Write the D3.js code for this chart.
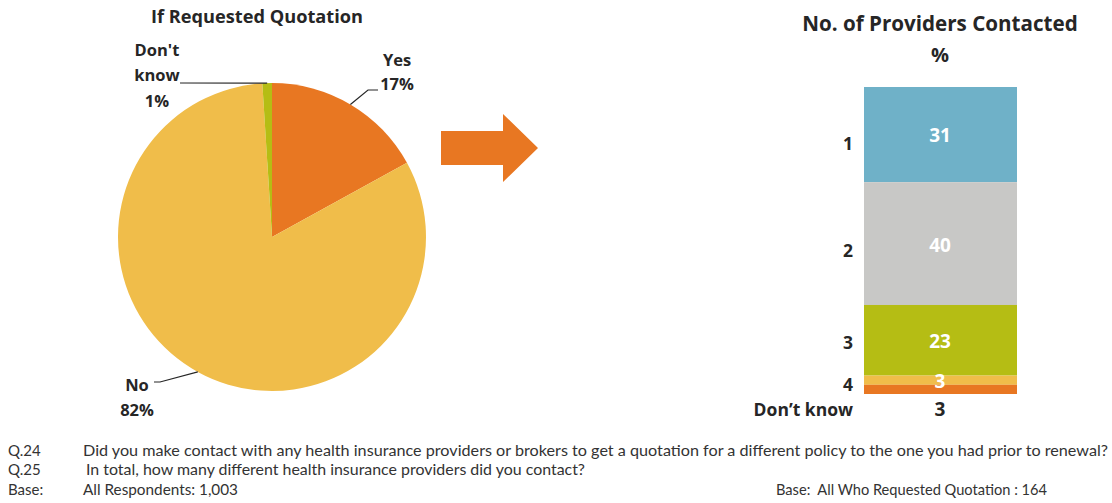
<!DOCTYPE html>
<html>
<head>
<meta charset="utf-8">
<script src="https://cdn.jsdelivr.net/npm/d3@7/dist/d3.min.js"></script>
<style>
  html, body { margin: 0; padding: 0; background: #fff; }
  svg { display: block; font-family: "Open Sans", "DejaVu Sans", sans-serif; }
  .foot { font-family: Lato, "Open Sans", sans-serif; white-space: pre; }
</style>
</head>
<body>
<svg id="chart" width="1112" height="503"></svg>
<script>
// Pie: whether a quotation was requested
const pieCategories = ["Yes", "No", "Don't know"];
const pieValues = [17, 82, 1];
const pieColors = ["#E87722", "#F0BD4A", "#B5BD14"];

// Stacked bar: number of providers contacted (%)
const barCategories = ["1", "2", "3", "4", "Don\u2019t know"];
const barValues = [31, 40, 23, 3, 3];
const barColors = ["#6FB1C8", "#C8C8C6", "#B5BD14", "#F0BD4A", "#E87722"];

const footLines = [
  ["Q.24", "Did you make contact with any health insurance providers or brokers to get a quotation for a different policy to the one you had prior to renewal?"],
  ["Q.25", "In total, how many different health insurance providers did you contact?"],
  ["Base:", "All Respondents: 1,003"]
];
const rightBase = "Base:  All Who Requested Quotation : 164";

const svg = d3.select("#chart");
const dark = "#262626";

// ---------- Pie ----------
const cx = 272, cy = 237, r = 154;
svg.append("text").attr("x", 257).attr("y", 23)
  .attr("text-anchor", "middle").attr("font-weight", 700).attr("font-size", 18.2)
  .attr("fill", dark).text("If Requested Quotation");

const pie = d3.pie().sort(null).value(d => d)(pieValues);
const arc = d3.arc().innerRadius(0).outerRadius(r);
const pg = svg.append("g").attr("transform", `translate(${cx},${cy})`);
pg.selectAll("path").data(pie).join("path")
  .attr("d", arc).attr("fill", (d, i) => pieColors[i]);

// leader lines from pie edge to labels
function edge(d, k) {
  const a = d.startAngle + (d.endAngle - d.startAngle) * k;
  return [cx + r * Math.sin(a), cy - r * Math.cos(a)];
}
const leaders = [
  { i: 0, k: 0.5, pts: [[368, 90], [378, 90]] },
  { i: 1, k: 0.5, pts: [[160, 382], [154, 382]] },
  { i: 2, k: 0.5, pts: [[180, 83]] }
];
leaders.forEach(l => {
  const p = edge(pie[l.i], l.k);
  svg.append("polyline")
    .attr("points", [p, ...l.pts].map(q => q.join(",")).join(" "))
    .attr("fill", "none").attr("stroke", dark).attr("stroke-width", 1.2);
});

const pieLabels = [
  { lines: [pieCategories[0], pieValues[0] + "%"], x: 397, y: [66, 90] },
  { lines: [pieCategories[1], pieValues[1] + "%"], x: 137, y: [391, 416] },
  { lines: ["Don't", "know", pieValues[2] + "%"], x: 157, y: [56, 81, 107] }
];
pieLabels.forEach(l => {
  l.lines.forEach((t, j) => {
    svg.append("text").attr("x", l.x).attr("y", l.y[j])
      .attr("text-anchor", "middle").attr("font-weight", 700).attr("font-size", 16.5)
      .attr("fill", dark).text(t);
  });
});

// ---------- Arrow ----------
const arrowPts = [[441, 131], [503, 131], [503, 114], [538, 148], [503, 182], [503, 165], [441, 165]];
svg.append("polygon").attr("points", arrowPts.map(p => p.join(",")).join(" "))
  .attr("fill", "#E87722");

// ---------- Stacked bar ----------
const bx0 = 864, bx1 = 1017;
const y = d3.scaleLinear().domain([0, d3.sum(barValues)]).range([87, 394]);
let acc = 0;
const segs = barValues.map((v, i) => { const s = { v, i, y0: acc, y1: acc + v }; acc += v; return s; });

svg.append("text").attr("x", 940).attr("y", 31)
  .attr("text-anchor", "middle").attr("font-weight", 700).attr("font-size", 20.6)
  .attr("fill", dark).text("No. of Providers Contacted");
svg.append("text").attr("x", 940).attr("y", 62)
  .attr("text-anchor", "middle").attr("font-weight", 700).attr("font-size", 20)
  .attr("fill", dark).text("%");

svg.selectAll("rect.seg").data(segs).join("rect").attr("class", "seg")
  .attr("x", bx0).attr("width", bx1 - bx0)
  .attr("y", d => y(d.y0)).attr("height", d => y(d.y1) - y(d.y0))
  .attr("fill", d => barColors[d.i]);

// value labels: inside segments, except the last which sits below the bar
const valY = [142, 252, 348, 388, 416];
segs.forEach((d, i) => {
  svg.append("text").attr("x", 940).attr("y", valY[i])
    .attr("text-anchor", "middle").attr("font-weight", 700).attr("font-size", 19)
    .attr("fill", i < 4 ? "#fff" : dark).text(d.v);
});

// category labels
const catY = [150, 257, 349, 391, 416];
barCategories.forEach((c, i) => {
  svg.append("text").attr("x", 853).attr("y", catY[i])
    .attr("text-anchor", "end").attr("font-weight", 700).attr("font-size", 17.5)
    .attr("fill", dark).text(c);
});

// ---------- Footnotes ----------
const footY = [456, 475, 495];
const footX = [83, 86, 83];
const footW = [1025, 499, 155];
footLines.forEach((l, i) => {
  svg.append("text").attr("class", "foot").attr("x", 8).attr("y", footY[i])
    .attr("font-size", 15).attr("fill", "#333").text(l[0]);
  svg.append("text").attr("class", "foot").attr("x", footX[i]).attr("y", footY[i])
    .attr("font-size", 15).attr("fill", "#333")
    .attr("textLength", footW[i]).attr("lengthAdjust", "spacingAndGlyphs").text(l[1]);
});
svg.append("text").attr("class", "foot").attr("x", 776).attr("y", footY[2])
  .attr("font-size", 15).attr("fill", "#333")
  .attr("textLength", 271).attr("lengthAdjust", "spacingAndGlyphs").text(rightBase);
</script>
</body>
</html>
